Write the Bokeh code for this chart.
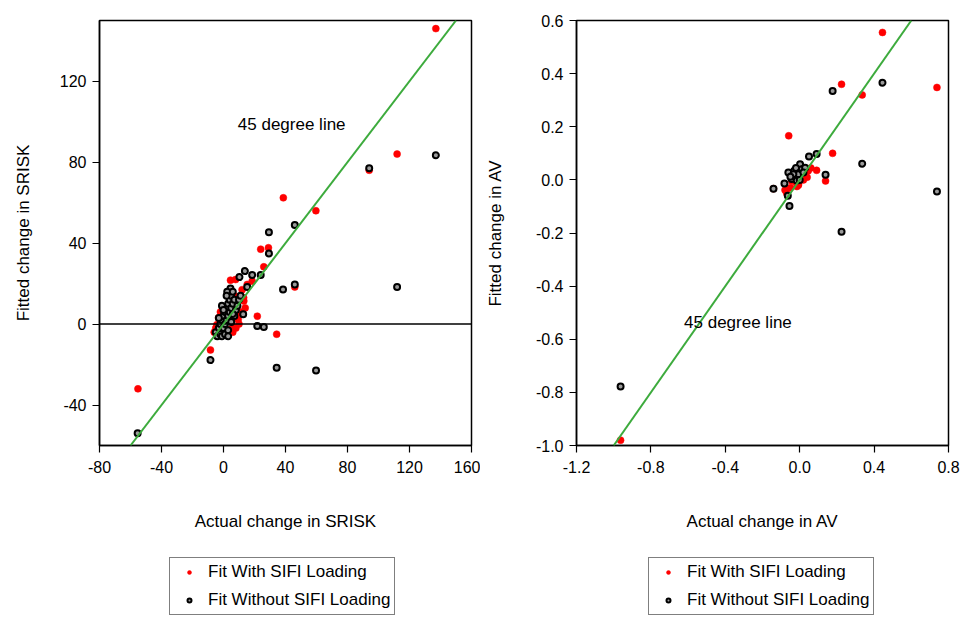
from bokeh.plotting import figure
from bokeh.layouts import row, column
from bokeh.models import (Range1d, FixedTicker, PrintfTickFormatter, Slope, Span,
                          Label, Legend, LegendItem, ColumnDataSource)
from bokeh.embed import file_html
from bokeh.resources import INLINE

FONT = "Liberation Sans"

# ---------------- Data: SRISK panel ----------------
srisk_with_x = [137, 112, 94, 38.6, 59.6, 24, 29, 26, 18.5, 4.5, 7.8, 21.8, 34.3, 46,
                -8.4, -55.2, 13, 8.5, 6.5, 4.4, -3.2, -4.3, 9.5, 12, 13.1, 9.9, 3.4,
                -4, 15.3, -5, -6, 0, 8, 10, 14, 11, 7, 3, -2, 1, 6]
srisk_with_y = [146, 84, 76, 62.4, 56, 37, 37.7, 28.3, 21.2, 21.7, 22, 3.9, -5, 18.3,
                -12.8, -32, 13, 8, -1.8, -2.6, 3.1, -0.3, 2.3, 17, 11.4, 5.6, -3.5,
                -3.5, 19.6, -2, -4, -5, -2, 0, 8, 6, 14, 16, 6, 3, -4]

srisk_without_x = [137, 94, 112, 46, 29.3, 29.3, 46, 38.4, 13.8, 18.5, 24, 10.3, 15.3,
                   4.5, 2.4, 21.8, 26, 34.3, 59.7, -8.4, -55.4, 12.7,
                   -5, -4, -3, -2, -1, 0, 1, 2, 3, 4, 5, 6, 0, 1, 2, 3, 4, 5, 6, 7,
                   -2, -1, 1, 3, 5, 7, 8, 9, 10, 11, -3, -1, 2, 3, 0, 6]
srisk_without_y = [83.4, 77, 18.3, 49, 45.4, 34.9, 19.6, 17.1, 26.2, 24.2, 24.2, 23.2, 18.3,
                   17.6, 16, -1, -1.5, -21.6, -22.9, -17.8, -54, 4.8,
                   -4, -6, -2, 0, 2, 4, 6, 8, 10, 12, 14, 16, -2, 0, 2, 4, 6, 8, 10, 12,
                   -5, -6, -5, -3, 1, 4, 7, 9, 12, 14, 3, 9, 14, -6, 7, 5]

srisk_xticks = [-80, -40, 0, 40, 80, 120, 160]
srisk_yticks = [-40, 0, 40, 80, 120]

# ---------------- Data: AV panel ----------------
av_with_x = [0.445, 0.225, 0.336, 0.738, -0.059, 0.177, 0.091, 0.139, -0.141, -0.079,
             -0.963, -0.043, -0.007, 0.029, 0.046, 0.011, -0.025, -0.007, -0.07, 0.06,
             0.02, -0.015, 0.04, -0.05]
av_with_y = [0.555, 0.36, 0.32, 0.348, 0.166, 0.10, 0.036, -0.004, -0.033, -0.038,
             -0.98, -0.004, -0.016, 0.021, 0.034, 0.009, -0.006, -0.02, -0.05, 0.045,
             0.0, -0.025, 0.01, -0.03]

av_without_x = [0.445, 0.177, 0.738, 0.336, 0.225, 0.139, 0.091, 0.05, 0.002, -0.061,
                -0.029, -0.082, -0.141, -0.064, -0.055, -0.963, -0.025, -0.007, 0.011,
                0.029, -0.043, -0.016, 0.02, -0.034, -0.05, 0.0, -0.02]
av_without_y = [0.366, 0.335, -0.044, 0.061, -0.195, 0.019, 0.097, 0.088, 0.059, 0.028,
                0.034, -0.014, -0.033, -0.06, -0.098, -0.778, 0.009, 0.021, 0.040,
                0.046, 0.003, -0.002, 0.028, 0.021, 0.012, 0.0, 0.045]

av_xticks = [-1.2, -0.8, -0.4, 0.0, 0.4, 0.8]
av_yticks = [-1.0, -0.8, -0.6, -0.4, -0.2, 0.0, 0.2, 0.4, 0.6]

legend_labels = ["Fit With SIFI Loading", "Fit Without SIFI Loading"]
GREEN = "#3dab3d"

WITH_STYLE = dict(size=7, fill_color="red", line_color="red", line_width=0.5)
WITHOUT_STYLE = dict(size=6, fill_color="#9a9a9a", line_color="black", line_width=2)


def make_panel(width, border_left, border_right, xr, yr, xticks, yticks, fmt,
               xlabel, ylabel, src_with, src_without, note_xy, ylabel_standoff, zero_line):
    p = figure(width=width, height=540, output_backend="svg", toolbar_location=None,
               x_range=Range1d(*xr), y_range=Range1d(*yr),
               min_border_left=border_left, min_border_right=border_right,
               min_border_top=20, min_border_bottom=95)
    p.grid.visible = False
    p.outline_line_color = "black"
    p.outline_line_width = 1.5
    p.background_fill_color = "white"
    p.border_fill_color = "white"

    for ax in (p.xaxis[0], p.yaxis[0]):
        ax.axis_line_color = "black"
        ax.axis_line_width = 1.5
        ax.major_tick_line_color = "black"
        ax.major_tick_line_width = 1.2
        ax.major_tick_in = 0
        ax.major_tick_out = 7
        ax.minor_tick_line_color = None
        ax.major_label_text_font = FONT
        ax.major_label_text_font_size = "16px"
        ax.major_label_text_color = "black"
        ax.axis_label_text_font = FONT
        ax.axis_label_text_font_size = "17px"
        ax.axis_label_text_font_style = "normal"
        ax.axis_label_text_color = "black"

    p.xaxis.ticker = FixedTicker(ticks=xticks)
    p.yaxis.ticker = FixedTicker(ticks=yticks)
    p.xaxis.formatter = PrintfTickFormatter(format=fmt)
    p.yaxis.formatter = PrintfTickFormatter(format=fmt)
    p.xaxis.major_label_standoff = 8
    p.yaxis.major_label_standoff = 6
    p.xaxis.axis_label = xlabel
    p.yaxis.axis_label = ylabel
    p.xaxis.axis_label_standoff = 36
    p.yaxis.axis_label_standoff = ylabel_standoff

    if zero_line:
        p.add_layout(Span(location=0, dimension="width", line_color="black", line_width=1.5))

    p.scatter(x="x", y="y", source=src_with, **WITH_STYLE)
    p.scatter(x="x", y="y", source=src_without, **WITHOUT_STYLE)

    p.add_layout(Slope(gradient=1, y_intercept=0, line_color=GREEN, line_width=2))
    p.add_layout(Label(x=note_xy[0], y=note_xy[1], text="45 degree line",
                       text_align="center", text_baseline="middle",
                       text_font=FONT, text_font_size="17px", text_color="black"))
    return p


def make_legend_panel(width, legend_x, src_with, src_without):
    # legend-only strip: the series are plotted here too but outside the visible
    # range, so only their legend entries show
    q = figure(width=width, height=78, output_backend="svg", toolbar_location=None,
               x_range=Range1d(1e6, 1e6 + 1), y_range=Range1d(1e6, 1e6 + 1),
               min_border_left=0, min_border_right=0, min_border_top=0, min_border_bottom=0)
    q.axis.visible = False
    q.grid.visible = False
    q.outline_line_color = None
    q.border_fill_color = "white"
    r_with = q.scatter(x="x", y="y", source=src_with, **WITH_STYLE)
    r_without = q.scatter(x="x", y="y", source=src_without, **WITHOUT_STYLE)
    legend = Legend(items=[LegendItem(label=legend_labels[0], renderers=[r_with]),
                           LegendItem(label=legend_labels[1], renderers=[r_without])],
                    location=(legend_x, 3), orientation="vertical",
                    border_line_color="black", border_line_width=1.2,
                    background_fill_color="white", background_fill_alpha=1,
                    padding=4, spacing=8, margin=0,
                    glyph_width=30, glyph_height=10, label_height=18, label_standoff=4,
                    label_text_font=FONT, label_text_font_size="17px",
                    label_text_color="black")
    q.add_layout(legend)
    return q


s1w = ColumnDataSource(dict(x=srisk_with_x, y=srisk_with_y))
s1o = ColumnDataSource(dict(x=srisk_without_x, y=srisk_without_y))
s2w = ColumnDataSource(dict(x=av_with_x, y=av_with_y))
s2o = ColumnDataSource(dict(x=av_without_x, y=av_without_y))

p1 = make_panel(480, 99, 9, (-80, 160), (-60, 150), srisk_xticks, srisk_yticks, "%d",
                "Actual change in SRISK", "Fitted change in SRISK",
                s1w, s1o, (44, 98.8), 24, True)
p2 = make_panel(483, 96, 15, (-1.2, 0.8), (-1.0, 0.6), av_xticks, av_yticks, "%.1f",
                "Actual change in AV", "Fitted change in AV",
                s2w, s2o, (-0.332, -0.538), 28, False)

l1 = make_legend_panel(480, 169, s1w, s1o)
l2 = make_legend_panel(483, 168, s2w, s2o)

layout = column(row(p1, p2), row(l1, l2))
open("out.html", "w").write(file_html(layout, INLINE))
